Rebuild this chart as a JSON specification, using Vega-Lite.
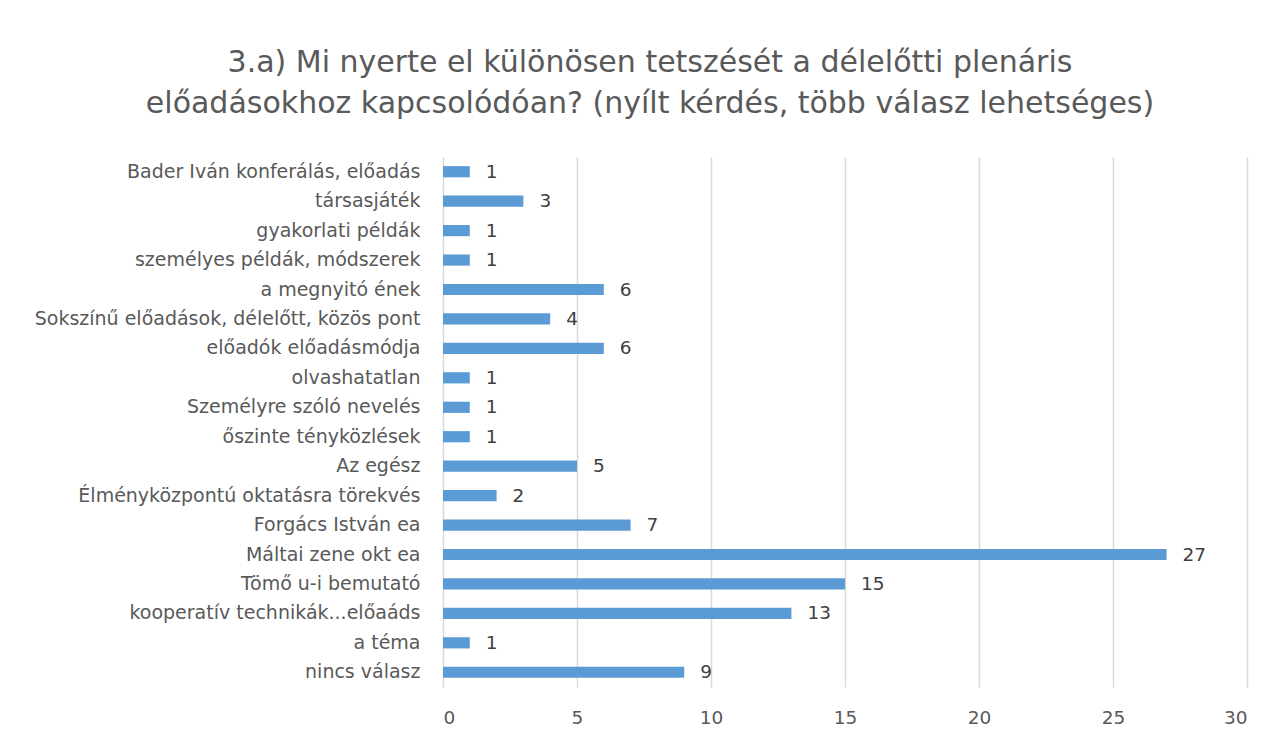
{
  "$schema": "https://vega.github.io/schema/vega-lite/v6.json",
  "autosize": "none",
  "width": 804,
  "height": 530,
  "padding": {"left": 443, "top": 157, "right": 29, "bottom": 53},
  "background": "white",
  "title": {
    "text": ["3.a) Mi nyerte el különösen tetszését a délelőtti plenáris", "előadásokhoz kapcsolódóan? (nyílt kérdés, több válasz lehetséges)"],
    "font": "DejaVu Sans",
    "fontSize": 30,
    "fontWeight": "normal",
    "color": "#595959",
    "lineHeight": 41,
    "anchor": "middle",
    "dx": -195,
    "offset": 38
  },
  "data": {
    "values": [
      {"kategoria": "Bader Iván konferálás, előadás", "ertek": 1},
      {"kategoria": "társasjáték", "ertek": 3},
      {"kategoria": "gyakorlati példák", "ertek": 1},
      {"kategoria": "személyes példák, módszerek", "ertek": 1},
      {"kategoria": "a megnyitó ének", "ertek": 6},
      {"kategoria": "Sokszínű előadások, délelőtt, közös pont", "ertek": 4},
      {"kategoria": "előadók előadásmódja", "ertek": 6},
      {"kategoria": "olvashatatlan", "ertek": 1},
      {"kategoria": "Személyre szóló nevelés", "ertek": 1},
      {"kategoria": "őszinte tényközlések", "ertek": 1},
      {"kategoria": "Az egész", "ertek": 5},
      {"kategoria": "Élményközpontú oktatásra törekvés", "ertek": 2},
      {"kategoria": "Forgács István ea", "ertek": 7},
      {"kategoria": "Máltai zene okt ea", "ertek": 27},
      {"kategoria": "Tömő u-i bemutató", "ertek": 15},
      {"kategoria": "kooperatív technikák...előaáds", "ertek": 13},
      {"kategoria": "a téma", "ertek": 1},
      {"kategoria": "nincs válasz", "ertek": 9}
    ]
  },
  "encoding": {
    "y": {
      "field": "kategoria",
      "type": "nominal",
      "sort": null,
      "title": null,
      "scale": {"paddingInner": 0.62, "paddingOuter": 0.31},
      "axis": {
        "labelFont": "DejaVu Sans",
        "labelFontSize": 19,
        "labelColor": "#595959",
        "labelLimit": 500,
        "labelPadding": 23,
        "ticks": false,
        "domain": true,
        "domainColor": "#d9d9d9",
        "domainWidth": 1,
        "grid": false
      }
    },
    "x": {
      "field": "ertek",
      "type": "quantitative",
      "title": null,
      "scale": {"domain": [0, 30], "nice": false},
      "axis": {
        "values": [0, 5, 10, 15, 20, 25, 30],
        "labelFont": "DejaVu Sans",
        "labelFontSize": 18.5,
        "labelColor": "#595959",
        "labelPadding": 21,
        "ticks": false,
        "domain": false,
        "grid": true,
        "gridColor": "#d9d9d9",
        "gridWidth": 1.5
      }
    }
  },
  "layer": [
    {"mark": {"type": "bar", "color": "#5B9BD5"}},
    {
      "mark": {"type": "text", "align": "left", "dx": 16, "font": "DejaVu Sans", "fontSize": 18.5, "color": "#404040"},
      "encoding": {"text": {"field": "ertek", "type": "quantitative"}}
    }
  ],
  "config": {"view": {"stroke": null}}
}
